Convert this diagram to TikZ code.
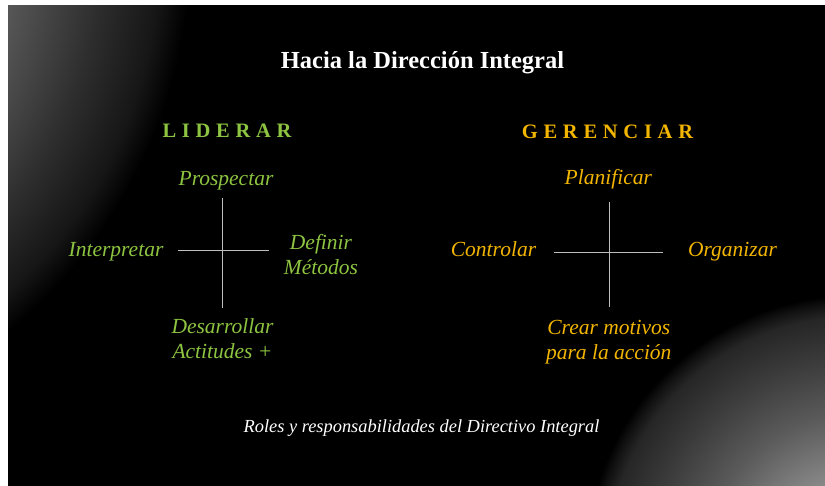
\documentclass[tikz,border=0pt]{standalone}
\usepackage{fontspec}
\setmainfont{Liberation Serif}
\newfontfamily\spacedfont[LetterSpace=28]{Liberation Serif}

\definecolor{lidgreen}{HTML}{8DC441}
\definecolor{gergold}{HTML}{F2B500}
\definecolor{crossgray}{HTML}{BEBEBE}
\definecolor{tlA}{HTML}{707070}
\definecolor{tlB}{HTML}{585858}
\definecolor{tlC}{HTML}{2E2E2E}
\definecolor{tlD}{HTML}{161616}
\definecolor{brA}{HTML}{9A9A9A}
\definecolor{brB}{HTML}{888888}
\definecolor{brC}{HTML}{5A5A5A}
\definecolor{brD}{HTML}{3C3C3C}
\definecolor{brE}{HTML}{262626}
\definecolor{brF}{HTML}{101010}

% the path box covers the inner 25bp of a radial shading
\pgfdeclareradialshading{glowtl}{\pgfpoint{0bp}{0bp}}{color(0bp)=(tlA); color(15.5bp)=(tlB); color(20bp)=(tlC); color(23bp)=(tlD); color(24.5bp)=(black); color(50bp)=(black)}
\pgfdeclareradialshading{glowbr}{\pgfpoint{0bp}{0bp}}{color(0bp)=(brA); color(8bp)=(brB); color(14bp)=(brC); color(19bp)=(brD); color(23bp)=(brE); color(24.25bp)=(brF); color(25bp)=(black); color(50bp)=(black)}

\begin{document}
\begin{tikzpicture}[x=1pt, y=-1pt,
    rolelabel/.style={font=\itshape\fontsize{21.5}{25}\selectfont, align=center, anchor=base, inner sep=0pt},
    headlabel/.style={font=\spacedfont\bfseries\fontsize{20.5}{24}\selectfont, anchor=base, inner sep=0pt},
    crossline/.style={draw=crossgray, line width=1pt}]

    % slide
    \useasboundingbox (0, 0) rectangle (825, 485);
    \fill[white] (0, 0) rectangle (825, 485);
    \fill[black] (8, 5) rectangle (830, 490);
    \begin{scope}
        \clip (8, 5) rectangle (830, 490);
        \shade[shading=glowtl] (-300, -50) circle (500);
        \shade[shading=glowbr] (855, 565) circle (270);
    \end{scope}

    \node[font=\bfseries\fontsize{24.5}{29}\selectfont, text=white, anchor=base, inner sep=0pt] (title) at (422.5, 68) {Hacia la Dirección Integral};

    % liderar
    \node[headlabel, text=lidgreen] (liderar) at (227, 137.5) {LIDERAR};
    \coordinate (lidN) at (222.7, 198);
    \coordinate (lidS) at (222.7, 308);
    \coordinate (lidW) at (177.7, 250.7);
    \coordinate (lidE) at (269, 250.7);
    \draw[crossline] (lidN) -- (lidS);
    \draw[crossline] (lidW) -- (lidE);
    \node[rolelabel, text=lidgreen] (prospectar) at (226, 185) {Prospectar};
    \node[rolelabel, text=lidgreen] (interpretar) at (116, 256.7) {Interpretar};
    \node[rolelabel, text=lidgreen] (definir) at (321, 274) {Definir\\Métodos};
    \node[rolelabel, text=lidgreen] (desarrollar) at (222.5, 358.3) {Desarrollar\\Actitudes +};

    % gerenciar
    \node[headlabel, text=gergold] (gerenciar) at (607.5, 138.3) {GERENCIAR};
    \coordinate (gerN) at (609, 202);
    \coordinate (gerS) at (609, 307);
    \coordinate (gerW) at (554, 252);
    \coordinate (gerE) at (663, 252);
    \draw[crossline] (gerN) -- (gerS);
    \draw[crossline] (gerW) -- (gerE);
    \node[rolelabel, text=gergold] (planificar) at (608.3, 184) {Planificar};
    \node[rolelabel, text=gergold] (controlar) at (493.5, 256.7) {Controlar};
    \node[rolelabel, text=gergold] (organizar) at (732.5, 256.7) {Organizar};
    \node[rolelabel, text=gergold] (crear) at (608.8, 359.3) {Crear motivos\\para la acción};

    \node[font=\itshape\fontsize{18.4}{22}\selectfont, text=white, anchor=base, inner sep=0pt] (roles) at (421.5, 432) {Roles y responsabilidades del Directivo Integral};
\end{tikzpicture}
\end{document}
